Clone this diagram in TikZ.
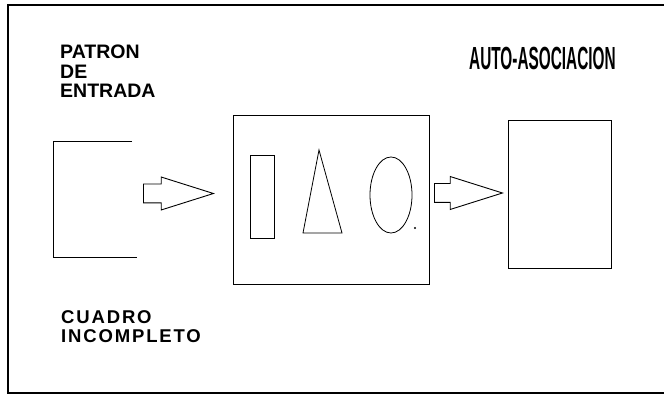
\documentclass[tikz,border=0pt]{standalone}
\usepackage{fontspec}
\setmainfont{Liberation Sans}
\newfontfamily\spacedfont[LetterSpace=10]{Liberation Sans}
\newfontfamily\narrowfont[FakeStretch=0.48]{Liberation Sans}
\usetikzlibrary{shapes.arrows}

\begin{document}
\begin{tikzpicture}[
  x=1pt,y=-1pt,
  frame/.style={line width=1.4pt},
  box/.style={draw,line width=0.9pt,inner sep=0pt},
  figline/.style={line width=0.8pt},
  blockarrow/.style={draw,single arrow,anchor=tail,line width=0.9pt,inner sep=9pt,minimum width=32pt,single arrow head extend=7pt,single arrow tip angle=35},
  caption/.style={align=left,inner sep=0pt,anchor=north west,font=\bfseries\fontsize{19.5}{19.5}\selectfont}
]
\useasboundingbox (0,0) rectangle (664,395);
\draw[frame] (664,5) -- (8,5) -- (8,393) -- (664,393);

\node[caption] (patron) at (60,45) {PATRON\\DE\\ENTRADA};
\node[caption,font=\spacedfont\bfseries\fontsize{18.5}{19.5}\selectfont] (cuadro) at (61,310) {CUADRO\\INCOMPLETO};
\node[inner sep=0pt,anchor=base west,font=\narrowfont\bfseries\fontsize{32}{32}\selectfont] (auto) at (469,70) {AUTO-ASOCIACION};

% cuadro incompleto
\draw[figline] (132,141) -- (53,141) -- (53,257) -- (137,257);

\node[box,minimum width=196pt,minimum height=169pt] (memoria) at (331,199.5) {};
\node[box,minimum width=103pt,minimum height=148pt] (salida) at (559.5,194) {};
\node[blockarrow,minimum height=70pt] (flechaA) at (143,193.5) {};
\node[blockarrow,minimum height=68pt] (flechaB) at (434,193) {};

% patrones almacenados
\draw[figline] (250,155) rectangle (274,238);
\draw[figline] (303,233) -- (319,150) -- (342,233) -- cycle;
\draw[figline] (391,195) ellipse [x radius=21, y radius=38];
\fill (415,228) circle [radius=1.2];
\end{tikzpicture}
\end{document}
